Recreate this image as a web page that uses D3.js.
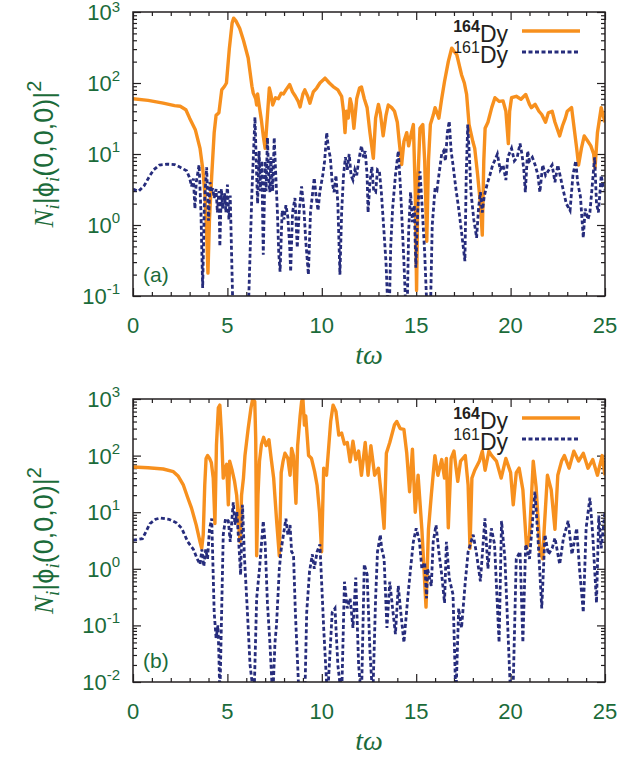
<!DOCTYPE html>
<html lang="en">
<head>
  <meta charset="UTF-8">
  <title>Dy density at the trap centre</title>
  <script src="https://d3js.org/d3.v7.min.js"></script>
  <style>
    body { margin: 0; background: #fff; }
    svg { display: block; }
    .frame { fill: none; stroke: #231f20; stroke-width: 1.5px; }
    .axis path { display: none; }
    .axis line { stroke: #231f20; stroke-width: 1.2px; }
    .lab { fill: #1b6b3a; font-family: "Liberation Sans", Arial, sans-serif; }
  </style>
</head>
<body>
<svg width="641" height="760"></svg>
<script>
  // values: [t*omega, N_i |phi_i(0,0,0)|^2]
  const dy164a = [[0,60],[0.8,57],[1.6,52],[2.2,48],[2.5,47],[2.8,42],[3.0,32],[3.3,22],[3.55,12],[3.7,6],[3.81,2.7],[3.9,0.8],[3.97,0.21],[4.05,1.2],[4.17,5],[4.3,20],[4.4,35],[4.55,38],[4.7,80],[4.85,90],[4.95,100],[5.1,300],[5.25,700],[5.33,820],[5.45,750],[5.65,590],[5.85,400],[6.1,225],[6.3,90],[6.37,72],[6.5,60],[6.55,49],[6.6,70],[6.7,45],[6.8,30],[6.9,18],[7.0,12],[7.1,29],[7.22,85],[7.3,70],[7.4,49],[7.55,62],[7.7,60],[7.85,72],[7.97,70],[8.1,80],[8.3,95],[8.45,75],[8.6,65],[8.75,55],[8.85,46],[9.0,70],[9.1,80],[9.25,65],[9.37,52],[9.55,75],[9.73,85],[9.9,100],[10.17,117],[10.4,100],[10.6,89],[10.85,80],[11.05,65],[11.15,40],[11.23,20],[11.3,40],[11.4,32],[11.5,60],[11.58,49],[11.7,23],[11.85,60],[12.0,85],[12.1,88],[12.25,60],[12.4,45],[12.55,20],[12.73,8.7],[12.85,32],[13.0,50],[13.1,38],[13.25,18],[13.4,35],[13.52,49],[13.7,45],[13.85,40],[14.0,28],[14.1,15],[14.23,7.1],[14.35,15],[14.5,20],[14.6,13],[14.75,20],[14.85,26],[14.95,3],[15.02,0.12],[15.1,5],[15.2,23],[15.35,26],[15.45,8],[15.56,0.59],[15.65,8],[15.75,26],[15.9,35],[16.0,45],[16.2,32],[16.35,60],[16.5,105],[16.7,200],[16.88,310],[17.0,280],[17.15,250],[17.4,131],[17.55,100],[17.67,69],[17.8,26],[18.0,15],[18.1,12],[18.25,5.2],[18.4,2],[18.5,0.72],[18.58,8],[18.65,23],[18.8,28],[19.0,45],[19.17,62],[19.4,55],[19.6,56],[19.75,40],[19.88,14],[19.95,40],[20.05,62],[20.3,65],[20.55,59],[20.8,69],[21.0,50],[21.1,45],[21.3,50],[21.5,40],[21.65,36],[21.85,28],[22.0,38],[22.2,40],[22.35,28],[22.6,18],[22.75,25],[22.9,32],[23.0,40],[23.23,45],[23.35,25],[23.5,12],[23.6,7],[23.75,12],[23.9,18],[24.1,15],[24.25,13],[24.4,10],[24.47,6.3],[24.6,20],[24.8,45],[24.9,35],[25,28]];

  const dy161a = [[0,3.2],[0.3,3.0],[0.6,3.6],[0.9,5.0],[1.1,6.0],[1.4,7.0],[1.8,7.2],[2.2,7.1],[2.5,6.5],[2.84,5.8],[3.0,4.6],[3.1,3.5],[3.2,4.5],[3.28,1.7],[3.35,4],[3.5,7],[3.6,1.5],[3.69,0.13],[3.78,2],[3.9,6.5],[4.0,1.15],[4.08,4],[4.15,2.9],[4.22,3.3],[4.3,2.4],[4.4,3.2],[4.47,1.5],[4.55,3],[4.6,0.5],[4.68,3.2],[4.75,1.7],[4.85,2.8],[4.92,1.5],[5.0,3.7],[5.08,1.2],[5.15,2.6],[5.3,0.05],[5.7,0.003],[6.1,0.05],[6.3,3],[6.46,33],[6.55,5],[6.6,2],[6.68,11],[6.75,3],[6.82,8],[6.9,0.38],[7.0,8],[7.05,3],[7.12,17],[7.2,4],[7.25,2.9],[7.3,9],[7.4,3],[7.48,17],[7.55,6],[7.65,1.5],[7.72,0.4],[7.79,0.22],[7.9,1.6],[8.0,1.2],[8.1,1.9],[8.2,1.3],[8.3,0.5],[8.35,0.22],[8.45,1.5],[8.58,2.4],[8.7,0.48],[8.8,1.5],[8.93,3.5],[9.05,1.7],[9.15,0.6],[9.29,0.2],[9.4,1.5],[9.6,4.6],[9.7,2.5],[9.8,1.6],[9.9,3],[10.05,5],[10.15,8],[10.26,20],[10.35,12],[10.45,9],[10.55,4],[10.65,2.9],[10.75,5],[10.85,2],[10.96,0.2],[11.05,1.5],[11.15,5],[11.25,9],[11.35,6],[11.45,10],[11.55,5],[11.65,4.3],[11.75,6],[11.85,5],[11.95,8],[12.1,13],[12.2,9],[12.3,11],[12.4,5],[12.45,1.5],[12.55,4],[12.65,6.6],[12.75,3],[12.85,2.9],[12.95,6],[13.05,5.7],[13.15,3],[13.25,1.2],[13.4,0.3],[13.55,0.03],[13.65,0.5],[13.75,1.7],[13.9,5],[14.05,11],[14.15,4],[14.22,1.7],[14.35,0.3],[14.5,0.03],[14.6,0.8],[14.7,2.9],[14.8,1.1],[14.9,1.9],[14.98,0.25],[15.08,1.5],[15.2,5.7],[15.3,2.1],[15.45,0.4],[15.6,0.04],[15.73,0.03],[15.85,1],[16.0,3.3],[16.1,3.1],[16.2,5],[16.35,10],[16.45,11],[16.55,8],[16.65,20],[16.75,29],[16.85,11],[16.95,7],[17.1,3.3],[17.25,1.7],[17.4,0.8],[17.58,0.31],[17.65,5],[17.73,26],[17.82,9],[17.9,2.9],[18.05,1.2],[18.2,0.66],[18.3,1.7],[18.4,2.9],[18.5,1.5],[18.6,2.5],[18.75,3.7],[18.9,5],[19.05,7],[19.15,8],[19.3,10],[19.45,6],[19.6,7],[19.75,4.3],[19.85,9],[20.05,12],[20.2,8],[20.35,9],[20.5,14],[20.6,10],[20.7,6],[20.78,2.9],[20.9,11],[21.0,8],[21.15,9],[21.3,7],[21.45,5],[21.55,2.9],[21.7,7],[21.85,5],[22.0,5.8],[22.2,7],[22.35,4],[22.5,7],[22.65,4.6],[22.8,3],[22.95,2],[23.15,1.6],[23.3,5],[23.45,8],[23.55,4],[23.7,2.5],[23.85,0.66],[23.95,1.7],[24.1,1.2],[24.2,1.5],[24.3,3],[24.45,9],[24.55,2],[24.65,1.5],[24.8,5],[24.9,3.5],[25,3.1]];

  const dy164b = [[0,63],[0.8,61],[1.6,58],[2.14,52],[2.4,43],[2.67,30],[2.9,18],[3.1,11.8],[3.35,5.9],[3.55,3],[3.64,2.3],[3.72,4],[3.8,30],[3.87,89],[3.95,100],[4.05,90],[4.15,75],[4.25,40],[4.34,6.3],[4.42,154],[4.52,700],[4.6,780],[4.7,200],[4.78,40],[4.88,60],[4.96,70],[5.05,13.5],[5.12,80],[5.25,55],[5.38,35],[5.49,20],[5.6,6],[5.67,3],[5.75,20],[5.85,40],[5.93,100],[6.1,300],[6.25,700],[6.34,1000],[6.45,900],[6.5,200],[6.55,1.7],[6.62,20],[6.7,80],[6.8,155],[6.92,210],[7.05,150],[7.2,190],[7.3,100],[7.45,40],[7.61,6.8],[7.75,1.7],[7.85,50],[7.95,80],[8.05,110],[8.2,90],[8.32,45],[8.4,134],[8.5,100],[8.63,14.4],[8.72,150],[8.85,500],[8.93,900],[9.0,1000],[9.08,345],[9.15,500],[9.3,100],[9.45,90],[9.62,52],[9.75,30],[9.88,10],[9.99,2.0],[10.1,60],[10.25,45],[10.47,400],[10.6,780],[10.75,600],[10.9,230],[11.05,250],[11.2,160],[11.35,170],[11.5,78],[11.65,180],[11.8,85],[11.95,120],[12.1,45],[12.3,170],[12.45,45],[12.6,150],[12.8,45],[13.0,60],[13.15,20],[13.3,5.2],[13.42,110],[13.6,170],[13.85,350],[13.97,400],[14.15,300],[14.35,290],[14.5,110],[14.65,23],[14.8,130],[14.95,10],[15.1,45],[15.3,5],[15.52,0.21],[15.65,5],[15.8,20],[15.99,100],[16.15,45],[16.35,85],[16.5,40],[16.6,89],[16.7,5.3],[16.85,89],[17.0,120],[17.2,35],[17.35,80],[17.6,100],[17.75,30],[17.85,2.3],[17.95,40],[18.1,55],[18.35,80],[18.5,120],[18.65,55],[18.85,120],[19.0,100],[19.25,80],[19.5,40],[19.75,89],[20.0,50],[20.14,13.5],[20.3,50],[20.45,60],[20.65,25],[20.85,2.3],[21.0,3.8],[21.2,80],[21.35,28],[21.56,2],[21.7,1.5],[21.78,5],[21.95,45],[22.15,25],[22.35,5],[22.5,45],[22.7,80],[22.85,100],[23.1,60],[23.35,120],[23.6,80],[23.85,110],[24.1,60],[24.35,85],[24.6,45],[24.85,100],[25,45]];

  const dy161b = [[0,3.2],[0.5,3.4],[0.9,6.3],[1.2,7.5],[1.45,7.9],[1.9,7.5],[2.3,6.5],[2.58,5.2],[2.9,3.0],[3.2,2.2],[3.4,1.5],[3.55,1.2],[3.65,2.2],[3.75,1.1],[3.85,2.2],[3.95,1.5],[4.05,5],[4.17,7.7],[4.3,0.17],[4.4,0.06],[4.5,0.1],[4.55,0.03],[4.6,0.005],[4.68,0.1],[4.78,4],[4.9,7.7],[5.05,7],[5.15,3],[5.31,15],[5.4,6],[5.5,10],[5.6,3],[5.7,0.78],[5.8,13.5],[5.9,1.7],[6.05,0.2],[6.2,0.02],[6.41,0.005],[6.55,0.3],[6.7,1],[6.9,7],[7.0,2.8],[7.12,0.25],[7.25,0.05],[7.4,0.005],[7.52,0.05],[7.6,0.1],[7.75,1],[7.85,2.2],[8.1,7.7],[8.2,4],[8.32,5.9],[8.4,2.0],[8.5,1.8],[8.6,0.17],[8.8,0.005],[9.1,0.005],[9.2,0.17],[9.35,0.9],[9.5,1.8],[9.6,1.0],[9.75,2],[9.9,2.7],[10.0,0.5],[10.1,0.09],[10.3,0.005],[10.55,0.17],[10.7,0.2],[10.85,0.02],[11.05,0.005],[11.2,0.59],[11.35,0.2],[11.5,0.3],[11.65,0.09],[11.8,0.7],[11.95,0.02],[12.1,0.005],[12.25,1.2],[12.4,0.8],[12.55,0.035],[12.7,0.005],[12.85,0.3],[12.95,2],[13.1,4],[13.17,2.3],[13.3,1.5],[13.45,0.09],[13.6,0.59],[13.75,0.2],[13.9,0.07],[14.05,0.5],[14.2,0.15],[14.35,0.05],[14.55,0.3],[14.7,1.0],[14.85,3],[15.0,5.2],[15.17,3.1],[15.3,1],[15.45,1.3],[15.55,0.3],[15.6,1],[15.8,0.5],[15.9,3],[16.05,5.9],[16.2,2],[16.35,0.8],[16.5,0.25],[16.6,3],[16.75,0.68],[16.95,0.35],[17.1,0.005],[17.25,0.2],[17.4,0.09],[17.6,0.59],[17.75,2],[18.02,4],[18.2,1.8],[18.4,0.6],[18.64,7.8],[18.8,1],[18.98,5.2],[19.15,2.7],[19.39,0.05],[19.52,7],[19.7,1.5],[19.97,0.01],[20.12,0.005],[20.3,1.5],[20.5,2],[20.65,0.05],[20.8,2.7],[21.0,1.5],[21.29,23],[21.45,3.5],[21.65,0.2],[21.82,4],[22.0,1.8],[22.2,2.3],[22.35,3.5],[22.6,1.2],[22.8,3.5],[23.05,7],[23.25,1.8],[23.5,5.2],[23.65,1],[23.85,0.17],[24.0,5.2],[24.2,18],[24.35,4],[24.55,0.25],[24.67,8.7],[24.8,2.3],[25,10]];

  const xTicks = [0, 5, 10, 15, 20, 25];
  const legendNames = [["164", "Dy"], ["161", "Dy"]];

  const svg = d3.select("svg");
  const green = "#1b6b3a", orange = "#f7901e", navy = "#262c7c";
  const x = d3.scaleLinear([0, 25], [133, 605]);

  function drawPanel(id, top, bottom, yMinExp, s164, s161, tag) {
    const y = d3.scaleLog([Math.pow(10, yMinExp), 1000], [bottom, top]);
    const g = svg.append("g");
    const decades = d3.range(yMinExp, 4).map(e => Math.pow(10, e));
    const minorY = [];
    decades.slice(0, -1).forEach(d => { for (let k = 2; k < 10; k++) minorY.push(d * k); });
    const minorX = d3.range(0, 26).filter(v => v % 5 !== 0);

    g.append("clipPath").attr("id", "clip" + id)
      .append("rect").attr("x", x(0)).attr("y", top).attr("width", x(25) - x(0)).attr("height", bottom - top);

    // ticks pointing inward on all four sides
    g.append("g").attr("class", "axis").attr("transform", `translate(0,${bottom})`)
      .call(d3.axisBottom(x).tickValues(xTicks).tickSize(-8).tickFormat(""));
    g.append("g").attr("class", "axis").attr("transform", `translate(0,${bottom})`)
      .call(d3.axisBottom(x).tickValues(minorX).tickSize(-4).tickFormat(""));
    g.append("g").attr("class", "axis").attr("transform", `translate(0,${top})`)
      .call(d3.axisTop(x).tickValues(xTicks).tickSize(-8).tickFormat(""));
    g.append("g").attr("class", "axis").attr("transform", `translate(0,${top})`)
      .call(d3.axisTop(x).tickValues(minorX).tickSize(-4).tickFormat(""));
    g.append("g").attr("class", "axis").attr("transform", `translate(${x(0)},0)`)
      .call(d3.axisLeft(y).tickValues(decades).tickSize(-8).tickFormat(""));
    g.append("g").attr("class", "axis").attr("transform", `translate(${x(0)},0)`)
      .call(d3.axisLeft(y).tickValues(minorY).tickSize(-4).tickFormat(""));
    g.append("g").attr("class", "axis").attr("transform", `translate(${x(25)},0)`)
      .call(d3.axisRight(y).tickValues(decades).tickSize(-8).tickFormat(""));
    g.append("g").attr("class", "axis").attr("transform", `translate(${x(25)},0)`)
      .call(d3.axisRight(y).tickValues(minorY).tickSize(-4).tickFormat(""));

    const line = d3.line().x(d => x(d[0])).y(d => y(d[1]));
    const plot = g.append("g").attr("clip-path", `url(#clip${id})`);
    plot.append("path").datum(s164).attr("d", line)
      .attr("fill", "none").attr("stroke", orange).attr("stroke-width", 3.4).attr("stroke-linejoin", "round");
    plot.append("path").datum(s161).attr("d", line)
      .attr("fill", "none").attr("stroke", navy).attr("stroke-width", 2.8).attr("stroke-dasharray", "4,2.5");

    g.append("rect").attr("class", "frame")
      .attr("x", x(0)).attr("y", top).attr("width", x(25) - x(0)).attr("height", bottom - top);

    // y tick labels 10^n
    decades.forEach((d, i) => {
      const e = yMinExp + i;
      const t = g.append("text").attr("class", "lab").attr("text-anchor", "end")
        .attr("x", 120).attr("y", y(d) + 8).attr("font-size", 22);
      t.append("tspan").text("10");
      t.append("tspan").attr("font-size", 15).attr("dy", e === 3 && id === "a" ? -8 : -10).text(e);
    });
    // x tick labels
    xTicks.forEach(v => {
      g.append("text").attr("class", "lab").attr("text-anchor", "middle")
        .attr("x", x(v)).attr("y", bottom + 37).attr("font-size", 22).text(v);
    });
    // x title
    g.append("text").attr("text-anchor", "middle").attr("fill", green)
      .attr("font-family", "'Liberation Serif', 'Times New Roman', serif").attr("font-style", "italic")
      .attr("font-size", 28).attr("x", 369).attr("y", bottom + 68).text("tω");

    // y title
    const yt = g.append("text").attr("fill", green).attr("text-anchor", "middle")
      .attr("font-family", "'Liberation Sans', Arial, sans-serif").attr("font-size", 27)
      .attr("transform", `translate(53,${(top + bottom) / 2}) rotate(-90)`);
    const serif = "'Liberation Serif', 'Times New Roman', serif";
    yt.append("tspan").attr("font-family", serif).attr("font-style", "italic").text("N");
    yt.append("tspan").attr("font-family", serif).attr("font-style", "italic").attr("font-size", 19).attr("dy", 6).text("i");
    yt.append("tspan").attr("dy", -6).text("|ϕ");
    yt.append("tspan").attr("font-family", serif).attr("font-style", "italic").attr("font-size", 19).attr("dy", 6).text("i");
    yt.append("tspan").attr("dy", -6).text("(0,0,0)|");
    yt.append("tspan").attr("font-size", 20).attr("dy", -12).text("2");

    // panel tag
    g.append("text").attr("class", "lab").attr("font-size", 21)
      .attr("x", 143).attr("y", bottom - 14).text(tag);

    // legend
    const colors = [orange, navy];
    legendNames.forEach((nm, i) => {
      const ly = top + 19 + i * 21;
      const t = g.append("text").attr("text-anchor", "end").attr("fill", "#231f20")
        .attr("font-family", "'Liberation Sans', Arial, sans-serif")
        .attr("x", 508).attr("y", ly + 11);
      t.append("tspan").attr("font-size", 16).attr("dy", -10).attr("font-weight", i === 0 ? "bold" : "normal").text(nm[0]);
      t.append("tspan").attr("font-size", 23).attr("dy", 10).text(nm[1]);
      g.append("line").attr("x1", 522).attr("x2", 580).attr("y1", ly).attr("y2", ly)
        .attr("stroke", colors[i]).attr("stroke-width", i === 0 ? 3.4 : 2.8)
        .attr("stroke-dasharray", i === 0 ? null : "4,2.5");
    });
  }

  drawPanel("a", 12, 296, -1, dy164a, dy161a, "(a)");
  drawPanel("b", 399, 682, -2, dy164b, dy161b, "(b)");
</script>
</body>
</html>
